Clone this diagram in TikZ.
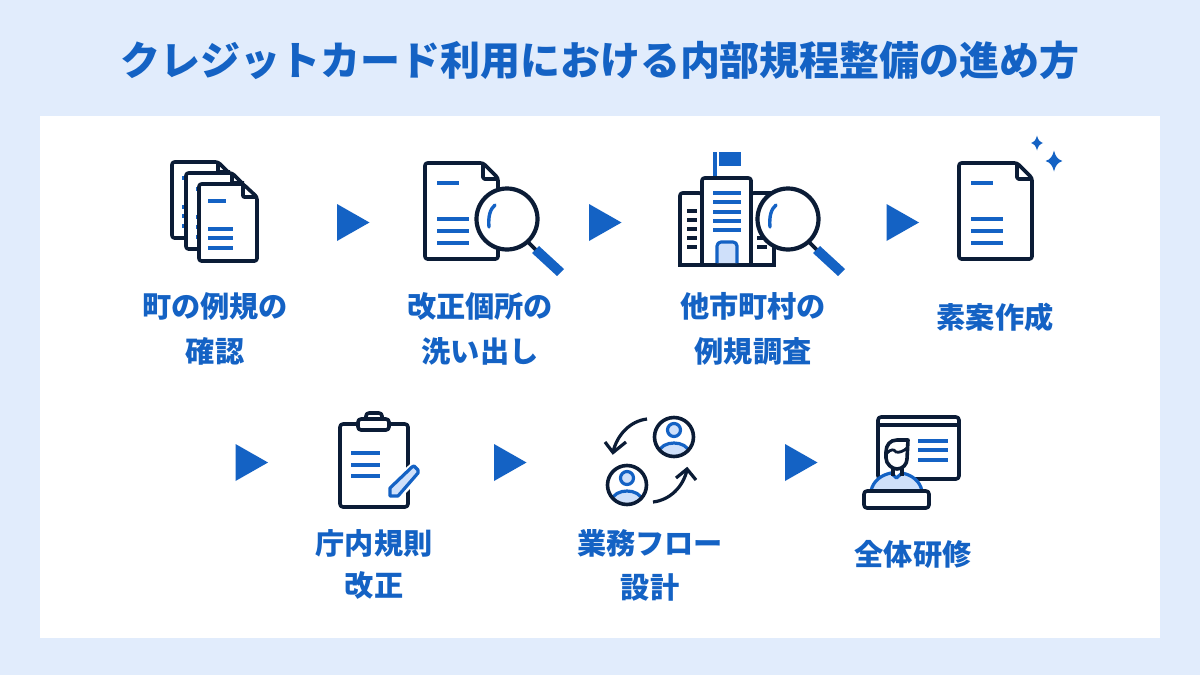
\documentclass[tikz,border=0pt]{standalone}
\usepackage{fontspec}
\setmainfont{Noto Sans CJK JP}
\definecolor{bgblue}{HTML}{E1ECFC}
\definecolor{mainblue}{HTML}{1462C4}
\definecolor{inkdark}{HTML}{0B1C36}
\definecolor{lightblue}{HTML}{CFE0FA}
\tikzset{
  x=1pt,y=-1pt,
  ink/.style={draw=inkdark,line width=3.6pt,line join=round},
  blueline/.style={draw=mainblue,line width=3.2pt},
  inkline/.style={draw=inkdark,line width=3.2pt},
  lightshape/.style={fill=lightblue,draw=mainblue,line width=3.2pt,line join=round},
  tri/.style={fill=mainblue,draw=none},
  lbl/.style={text=mainblue,font=\fontsize{29.2}{29}\selectfont\bfseries,inner sep=0pt,anchor=center},
  ttl/.style={text=mainblue,font=\fontsize{40}{40}\selectfont\bfseries,inner sep=0pt,anchor=center}
}
\newcommand{\lensat}[2]{\begin{scope}[shift={(#1,#2)}]
    \draw[inkline,line width=3.8pt] (21,23) -- (29,31);
    \fill[mainblue] (25,34) -- (32,27) -- (57,50) -- (50,57) -- cycle;
    \draw[ink,line width=4.2pt,fill=white] (0,0) circle (30.5);
    \draw[blueline,line width=3.4pt,line cap=round] (-12,-14) .. controls (-17,-10) and (-19,-2) .. (-18,8);
\end{scope}}
\newcommand{\sheetat}[2]{\begin{scope}[shift={(#1,#2)}]
    \draw[ink,fill=white,rounded corners=2.5pt] (0,0) -- (58,0) -- (73,15) -- (73,96) -- (0,96) -- cycle;
    \draw[ink,rounded corners=1.5pt] (58,0) -- (58,16) -- (73,16);
    \draw[blueline] (12,20) -- (34,20) (12,56) -- (44,56) (12,68) -- (44,68) (12,80) -- (44,80);
\end{scope}}
\newcommand{\personat}[2]{\begin{scope}[shift={(#1,#2)}]
    \fill[white] (0,0) circle (19.5);
    \begin{scope}
      \clip (0,0) circle (19.5);
      \draw[lightshape] (-17,22) -- (-17,17) .. controls (-14,9) and (-7,6) .. (0,6) .. controls (7,6) and (14,9) .. (17,17) -- (17,22) -- cycle;
    \end{scope}
    \draw[lightshape] (0,-7) circle (6.5);
    \draw[ink] (0,0) circle (19.5);
\end{scope}}
\newcommand{\triat}[2]{\path[tri] (#1,#2-18.5) -- (#1+32.5,#2) -- (#1,#2+18.5) -- cycle;}
\newcommand{\sparkle}[3]{\path[fill=mainblue] (#1,#2-#3) .. controls (#1+.14*#3,#2-.42*#3) and (#1+.34*#3,#2-.16*#3) .. (#1+.8*#3,#2) .. controls (#1+.34*#3,#2+.16*#3) and (#1+.14*#3,#2+.42*#3) .. (#1,#2+#3) .. controls (#1-.14*#3,#2+.42*#3) and (#1-.34*#3,#2+.16*#3) .. (#1-.8*#3,#2) .. controls (#1-.34*#3,#2-.16*#3) and (#1-.14*#3,#2-.42*#3) .. (#1,#2-#3) -- cycle;}
\begin{document}
\begin{tikzpicture}
\useasboundingbox (0,0) rectangle (1200,675);
\fill[bgblue] (0,0) rectangle (1200,675);
\fill[white] (40,116) rectangle (1160,638);
\node[ttl] (title) at (600,60) {クレジットカード利用における内部規程整備の進め方};

% icon 1: stacked documents
\draw[ink,fill=white,rounded corners=2.5pt] (172,162) -- (218,162) -- (230,174) -- (230,238) -- (172,238) -- cycle;
\draw[blueline] (182,178) -- (188,178) (182,207) -- (188,207) (182,216) -- (188,216) (182,226) -- (188,226);
\draw[ink,rounded corners=1pt] (218,162) -- (218,172) -- (230,172);
\draw[ink,fill=white,rounded corners=2.5pt] (186,173) -- (232,173) -- (244,185) -- (244,249) -- (186,249) -- cycle;
\draw[ink,rounded corners=1pt] (232,173) -- (232,183) -- (244,183);
\draw[blueline] (196,189) -- (202,189) (196,217) -- (202,217) (196,227) -- (202,227) (196,237) -- (202,237);
\draw[ink,fill=white,rounded corners=2.5pt] (199,184) -- (243,184) -- (257,197) -- (257,261) -- (199,261) -- cycle;
\draw[ink,rounded corners=1pt] (243,184) -- (243,197) -- (257,197);
\draw[blueline] (208,201) -- (226,201) (208,229) -- (233,229) (208,238) -- (233,238) (208,248) -- (233,248);

\triat{337}{222.5}

% icon 2: document with lens
\sheetat{425}{163}
\lensat{507}{219}

\triat{589}{222.5}

% icon 3: building with lens
\draw[mainblue,line width=3.4pt] (715,152) -- (715,178);
\fill[mainblue] (719,152) rectangle (741,166);
\draw[ink,rounded corners=2.5pt,fill=white] (702,265) -- (702,193) -- (680,193) -- (680,265);
\draw[ink,rounded corners=2.5pt,fill=white] (751,265) -- (751,193) -- (774,193) -- (774,265);
\draw[ink,fill=white,rounded corners=2.5pt] (702,265) -- (702,178) -- (751,178) -- (751,265);
\draw[ink] (678,265) -- (776,265);
\draw[blueline] (713,193) -- (741,193) (713,202) -- (741,202) (713,212) -- (741,212) (713,221) -- (741,221) (713,230) -- (741,230);
\draw[lightshape,rounded corners=4pt] (717,263) -- (717,242) -- (737,242) -- (737,263);
\draw[inkline] (687,211) -- (697,211) (687,220) -- (697,220) (687,229) -- (697,229) (687,238) -- (697,238) (687,247) -- (697,247);
\draw[inkline] (757,238) -- (767,238) (757,247) -- (767,247);
\lensat{788}{219}

\triat{886.5}{222.5}

% icon 4: document with sparkles
\sheetat{959}{163}
\sparkle{1037}{143}{7.5}
\sparkle{1054}{161}{10.5}

% row 2
\triat{235.5}{462.5}

% icon 5: clipboard
\draw[ink,fill=white,rounded corners=3pt] (340,424) rectangle (408,507);
\draw[ink,fill=white,rounded corners=3pt] (366,413) rectangle (382,424);
\draw[ink,fill=white,rounded corners=3pt] (358,419) rectangle (389,430);
\draw[blueline] (351,453) -- (380,453) (351,465) -- (380,465) (351,476) -- (380,476);
\draw[white,fill=white,line width=7pt,line join=round] (390,496) -- (390,488) -- (412,467) -- (420,474) -- (398,496) -- cycle;
\draw[lightshape] (390,496) -- (390,488) -- (412,467) -- (414,466) -- (418,470) -- (418,473) -- (398,496) -- cycle;

\triat{494}{462.5}

% icon 6: exchange of persons
\personat{674}{437}
\personat{627}{485}
\draw[inkline] (647,419) .. controls (630,421) and (617,435) .. (613,452);
\draw[inkline,line join=miter] (605,442) -- (613,452.5) -- (626,442);
\draw[inkline] (653,502) .. controls (670,500) and (683,487) .. (687,470);
\draw[inkline,line join=miter] (676,478) -- (687,469) -- (696,480);

\triat{785}{462.5}

% icon 7: presenter
\draw[ink,fill=white,rounded corners=3pt] (878,417) rectangle (959,479);
\draw[ink] (878,425) -- (959,425);
\draw[blueline] (918,441) -- (948,441) (918,450) -- (948,450) (918,460) -- (948,460);
\draw[lightshape] (871,491) .. controls (873,481) and (881,475) .. (891,473) -- (896.5,478) -- (902,473) .. controls (912,475) and (920,481) .. (922,491) -- cycle;
\draw[inkline] (893,466) -- (893,476) (902,466) -- (902,476);
\draw[ink,fill=white] (908,440) -- (897,440) .. controls (890,440) and (886,445) .. (886,452) -- (886,458) .. controls (886,464) and (892,469) .. (897,469) .. controls (903,469) and (907,464) .. (907,459) -- cycle;
\draw[inkline,line width=2.8pt] (887,453) .. controls (891,449) and (894,449) .. (896,452) .. controls (899,453) and (904,451) .. (907,448);
\draw[ink,fill=white,rounded corners=3pt] (864,491) rectangle (929,508);

% labels
\node[lbl] (l1a) at (215,306) {町の例規の};
\node[lbl] (l1b) at (215,351) {確認};
\node[lbl] (l2a) at (480,306) {改正個所の};
\node[lbl] (l2b) at (480,351) {洗い出し};
\node[lbl] (l3a) at (753,306) {他市町村の};
\node[lbl] (l3b) at (753,351) {例規調査};
\node[lbl] (l4) at (995,317) {素案作成};
\node[lbl] (l5a) at (374,543) {庁内規則};
\node[lbl] (l5b) at (374,585) {改正};
\node[lbl] (l6a) at (650,543) {業務フロー};
\node[lbl] (l6b) at (650,587) {設計};
\node[lbl] (l7) at (913,554) {全体研修};
\end{tikzpicture}
\end{document}
